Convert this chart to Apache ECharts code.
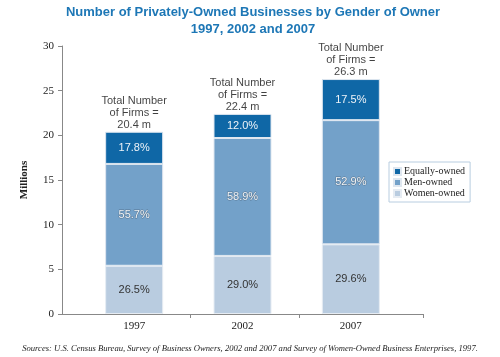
<!DOCTYPE html>
<html><head><meta charset="utf-8">
<script src="https://cdn.jsdelivr.net/npm/echarts@6/dist/echarts.min.js"></script>
<style>html,body{margin:0;padding:0;background:#fff}#c{width:500px;height:357px}</style>
</head><body><div id="c"></div>
<script>
var years = ['1997', '2002', '2007'];
var womenOwned = [5.4, 6.5, 7.8];
var menOwned = [11.4, 13.2, 13.9];
var equallyOwned = [3.6, 2.7, 4.6];
var womenPct = ['26.5%', '29.0%', '29.6%'];
var menPct = ['55.7%', '58.9%', '52.9%'];
var equallyPct = ['17.8%', '12.0%', '17.5%'];
var totals = [20.4, 22.4, 26.3];

var chart = echarts.init(document.getElementById('c'));
var serif = 'Liberation Serif';
var sans = 'Liberation Sans';
chart.setOption({
  animation: false,
  title: {
    text: 'Number of Privately-Owned Businesses by Gender of Owner\n1997, 2002 and 2007',
    left: 248, textAlign: 'center', top: -1,
    textStyle: { fontFamily: sans, fontSize: 13, fontWeight: 'bold', color: '#1d77b6', lineHeight: 17 }
  },
  grid: [
    { left: 62, right: 77, top: 46, bottom: 43 },
    { left: 80, right: 95, top: 46, bottom: 43 }
  ],
  legend: {
    orient: 'vertical', left: 389, top: 162,
    data: ['Equally-owned', 'Men-owned', 'Women-owned'],
    itemWidth: 7, itemHeight: 7, itemGap: 0,
    padding: [4, 5, 3, 4],
    borderColor: '#b8cde0', borderWidth: 1,
    icon: 'rect',
    textStyle: { fontFamily: serif, fontSize: 10, lineHeight: 11, color: '#222', padding: [0,0,0,-2] }
  },
  xAxis: [
    { type: 'value', gridIndex: 0, min: 0, max: 1,
      splitLine: { show: false },
      axisLine: { show: true, lineStyle: { color: '#888' } },
      axisTick: { show: true, length: 4, customValues: [0.355, 0.657, 1], lineStyle: { color: '#888' } },
      axisLabel: { show: false } },
    { type: 'category', gridIndex: 1, data: years,
      axisLine: { show: false }, axisTick: { show: false },
      axisLabel: { fontFamily: serif, fontSize: 11, color: '#222', margin: 7 } }
  ],
  yAxis: [
    { type: 'value', gridIndex: 0, min: 0, max: 30, interval: 5,
      name: 'Millions', nameLocation: 'middle', nameGap: 32, nameRotate: 90,
      nameTextStyle: { fontFamily: serif, fontSize: 11, fontWeight: 'bold', color: '#222' },
      splitLine: { show: false },
      axisLine: { show: true, lineStyle: { color: '#888' } },
      axisTick: { show: true, length: 4, lineStyle: { color: '#888' } },
      axisLabel: { fontFamily: serif, fontSize: 11, color: '#222', margin: 8 } },
    { type: 'value', gridIndex: 1, min: 0, max: 30, interval: 5, show: false, splitLine: { show: false } }
  ],
  series: [
    { name: 'Women-owned', type: 'bar', stack: 's', xAxisIndex: 1, yAxisIndex: 1, barWidth: 58, data: womenOwned,
      itemStyle: { color: '#b9cce0', borderColor: '#e6ecf3', borderWidth: 1 },
      label: { show: true, position: 'inside', formatter: function(p){ return womenPct[p.dataIndex]; },
        fontFamily: sans, fontSize: 11, color: '#333' } },
    { name: 'Men-owned', type: 'bar', stack: 's', xAxisIndex: 1, yAxisIndex: 1, barWidth: 58, data: menOwned,
      itemStyle: { color: '#73a1c9', borderColor: '#dfe7f0', borderWidth: 1 },
      label: { show: true, position: 'inside', formatter: function(p){ return menPct[p.dataIndex]; },
        fontFamily: sans, fontSize: 11, color: '#f2f5f8', textBorderColor: 'rgba(70,90,110,0.6)', textBorderWidth: 1 } },
    { name: 'Equally-owned', type: 'bar', stack: 's', xAxisIndex: 1, yAxisIndex: 1, barWidth: 58, data: equallyOwned,
      itemStyle: { color: '#0f67a6', borderColor: '#dfe7f0', borderWidth: 1 },
      label: { show: true, position: 'inside', formatter: function(p){ return equallyPct[p.dataIndex]; },
        fontFamily: sans, fontSize: 11, color: '#eef3f8' } },
    { name: 'totals', type: 'scatter', xAxisIndex: 1, yAxisIndex: 1, symbolSize: 0, data: totals, silent: true,
      label: { show: true, position: 'top', distance: 1,
        formatter: function(p){ return 'Total Number\nof Firms =\n' + totals[p.dataIndex].toFixed(1) + ' m'; },
        fontFamily: sans, fontSize: 11, lineHeight: 12, color: '#111', align: 'center' } }
  ],
  graphic: [
    { type: 'text', left: 'center', top: 344,
      style: { text: 'Sources: U.S. Census Bureau, Survey of Business Owners, 2002 and 2007 and Survey of Women-Owned Business Enterprises, 1997.',
        font: 'italic 8.6px "Liberation Serif"', fill: '#222' } }
  ]
});
</script>
</body></html>
